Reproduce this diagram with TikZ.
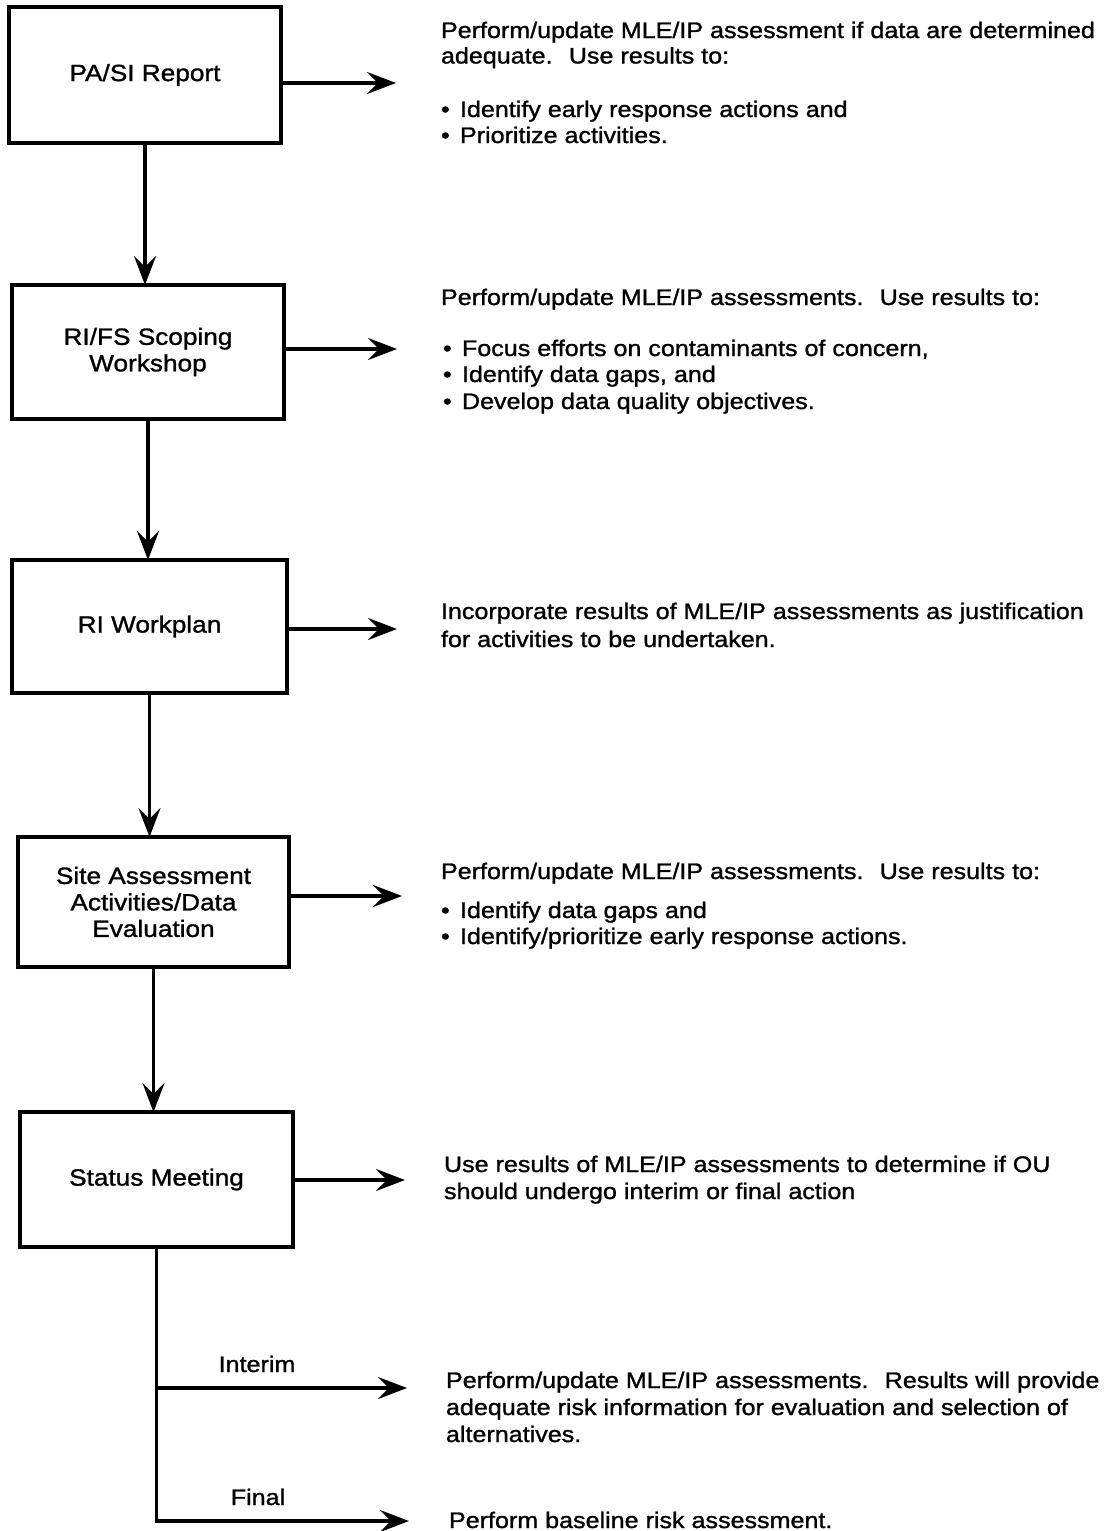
\documentclass[tikz,border=0pt]{standalone}
\usepackage{fontspec}
\setmainfont[FakeStretch=1.115,FakeBold=1.2]{Liberation Sans}
\usetikzlibrary{arrows.meta}
\newcommand\mydiafont{\fontsize{22.5}{26.5}\selectfont}
\newcommand\myboxfont{\fontsize{23.5}{26.5}\selectfont}
\newcommand\bul{\makebox[19pt][l]{\textbullet}}
\begin{document}
\begin{tikzpicture}[x=1pt,y=-1pt,
  box/.style={draw, line width=3.3pt, outer sep=0pt, inner sep=0pt, align=center, font=\myboxfont},
  desc/.style={anchor=base west, inner sep=0pt, outer sep=0pt, font=\mydiafont},
  lbl/.style={anchor=base, inner sep=0pt, outer sep=0pt, font=\mydiafont},
  arrow/.style={line width=3.3pt, -{Stealth[length=29pt,width=22pt,inset=11pt]}},
  link/.style={line width=3.3pt}]
\useasboundingbox (0,0) rectangle (1116,1531);

% boxes
\node[box, minimum width=272pt, minimum height=136pt] (b1) at (145,75) {PA/SI Report};
\node[box, minimum width=272pt, minimum height=134pt] (b2) at (148,352) {RI/FS Scoping\\Workshop};
\node[box, minimum width=275pt, minimum height=133pt] (b3) at (149.5,626.5) {RI Workplan};
\node[box, minimum width=271pt, minimum height=130pt] (b4) at (153.5,902) {Site Assessment\\Activities/Data\\Evaluation};
\node[box, minimum width=273pt, minimum height=135pt] (b5) at (156.5,1179.5) {Status Meeting};

% vertical arrows
\draw[arrow] (b1.south) -- (b1.south |- b2.north);
\draw[arrow] (b2.south) -- (b2.south |- b3.north);
\draw[arrow] (b3.south) -- (b3.south |- b4.north);
\draw[arrow] (b4.south) -- (b4.south |- b5.north);

% horizontal arrows
\coordinate (a1) at (396,83);
\coordinate (a2) at (397,349);
\coordinate (a3) at (397,629);
\coordinate (a4) at (402,896);
\coordinate (a5) at (405,1180);
\coordinate (ai) at (407,1388);
\coordinate (af) at (409,1521);
\draw[arrow] (b1.east |- a1) -- (a1);
\draw[arrow] (b2.east |- a2) -- (a2);
\draw[arrow] (b3.east |- a3) -- (a3);
\draw[arrow] (b4.east |- a4) -- (a4);
\draw[arrow] (b5.east |- a5) -- (a5);
\draw[arrow] (b5.south) |- (af);
\draw[arrow] (b5.south |- ai) -- (ai);

\node[lbl] (interim) at (257,1372) {Interim};
\node[lbl] (final) at (258,1505) {Final};

% descriptions
\node[desc] (t1a) at (441,38) {Perform/update MLE/IP assessment if data are determined};
\node[desc] (t1b) at (441,63.5) {adequate.~ Use results to:};
\node[desc] (t1c) at (441,117) {\bul Identify early response actions and};
\node[desc] (t1d) at (441,143) {\bul Prioritize activities.};

\node[desc] (t2a) at (441,305) {Perform/update MLE/IP assessments.~ Use results to:};
\node[desc] (t2b) at (443,356) {\bul Focus efforts on contaminants of concern,};
\node[desc] (t2c) at (443,382) {\bul Identify data gaps, and};
\node[desc] (t2d) at (443,409) {\bul Develop data quality objectives.};

\node[desc] (t3a) at (441,619) {Incorporate results of MLE/IP assessments as justification};
\node[desc] (t3b) at (441,647) {for activities to be undertaken.};

\node[desc] (t4a) at (441,879) {Perform/update MLE/IP assessments.~ Use results to:};
\node[desc] (t4b) at (441,918) {\bul Identify data gaps and};
\node[desc] (t4c) at (441,944) {\bul Identify/prioritize early response actions.};

\node[desc] (t5a) at (444,1172) {Use results of MLE/IP assessments to determine if OU};
\node[desc] (t5b) at (444,1199) {should undergo interim or final action};

\node[desc] (t6a) at (446,1388) {Perform/update MLE/IP assessments.~ Results will provide};
\node[desc] (t6b) at (446,1415) {adequate risk information for evaluation and selection of};
\node[desc] (t6c) at (446,1442) {alternatives.};

\node[desc] (t7) at (449,1528) {Perform baseline risk assessment.};
\end{tikzpicture}
\end{document}
